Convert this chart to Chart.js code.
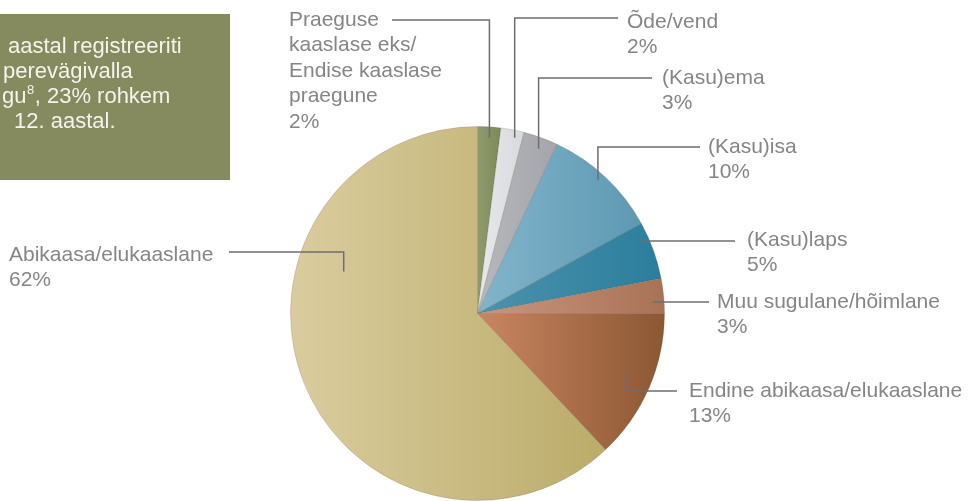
<!DOCTYPE html>
<html lang="et">
<head>
    <meta charset="UTF-8">
    <title>Perevägivald</title>
    <script src="https://cdn.jsdelivr.net/npm/chart.js"></script>
    <style>
        body {
            margin: 0;
            padding: 0;
            background: #ffffff;
        }
        .chart-container {
            position: relative;
            width: 968px;
            height: 501px;
        }
    </style>
</head>
<body>
    <div class="chart-container">
        <canvas id="pieCanvas"></canvas>
    </div>

    <script>
        // Andmed
        const categories = [
            'Praeguse kaaslase eks/Endise kaaslase praegune',
            'Õde/vend',
            '(Kasu)ema',
            '(Kasu)isa',
            '(Kasu)laps',
            'Muu sugulane/hõimlane',
            'Endine abikaasa/elukaaslane',
            'Abikaasa/elukaaslane'
        ];
        const shares = [2, 2, 3, 10, 5, 3, 13, 62];

        // Sildi read (pikk nimi murtakse)
        const labelLines = [
            ['Praeguse', 'kaaslase eks/', 'Endise kaaslase', 'praegune'],
            ['Õde/vend'],
            ['(Kasu)ema'],
            ['(Kasu)isa'],
            ['(Kasu)laps'],
            ['Muu sugulane/hõimlane'],
            ['Endine abikaasa/elukaaslane'],
            ['Abikaasa/elukaaslane']
        ];

        // Värvid: vasak -> parem
        const colorsLeft  = ['#909b6d', '#e8e9ec', '#b6b8bc', '#82b5cb', '#4d92ad', '#c9967e', '#c98661', '#dacc9e'];
        const colorsRight = ['#7b8957', '#d8d9dc', '#a3a5aa', '#5d98b2', '#2a7e9c', '#a87256', '#8c5733', '#bbac6a'];

        // Sildi asukoht: teksti x, esimese rea y, joone algus x, joone y
        const labelPos = [
            [289, 20, 392, 20],
            [627, 22, 618, 18],
            [662, 78, 652, 78],
            [708, 147, 700, 147],
            [747, 240, 735, 241],
            [717, 302, 709, 302],
            [689, 391, 677, 391],
            [9, 255, 229, 252]
        ];
        // Joone ots lõigul: nurga osa ja raadiuse osa
        const anchorT = [0.54, 0.66, 0.55, 0.47, 0.29, 0.67, 0.46, 0.675];
        const anchorR = [0.94, 0.96, 0.94, 0.96, 0.95, 0.94, 0.86, 0.75];

        const FONT = '21px "Liberation Sans", Arial, sans-serif';
        const BOX_FONT = '22px "Liberation Sans", Arial, sans-serif';
        const LINE_H = 25.5;

        function sliceRange(cx, r, a0, a1) {
            const xs = [cx, cx + r * Math.cos(a0), cx + r * Math.cos(a1)];
            for (let k = Math.ceil(a0 / Math.PI); k * Math.PI <= a1; k++) {
                xs.push(cx + r * Math.cos(k * Math.PI));
            }
            return [Math.min(...xs), Math.max(...xs)];
        }

        function sliceGradient(context) {
            const chart = context.chart;
            const area = chart.chartArea;
            const i = context.dataIndex;
            if (!area) return colorsLeft[i];
            const total = shares.reduce((a, b) => a + b, 0);
            let start = -Math.PI / 2;
            for (let k = 0; k < i; k++) start += shares[k] / total * Math.PI * 2;
            const end = start + shares[i] / total * Math.PI * 2;
            const cx = (area.left + area.right) / 2;
            const r = Math.min(area.width, area.height) / 2;
            const [x0, x1] = sliceRange(cx, r, start, end);
            const g = chart.ctx.createLinearGradient(x0, 0, x1 + 0.01, 0);
            g.addColorStop(0, colorsLeft[i]);
            g.addColorStop(1, colorsRight[i]);
            return g;
        }

        const annotations = {
            id: 'annotations',
            beforeDraw(chart) {
                const ctx = chart.ctx;
                ctx.save();
                // tekstikast vasakul üleval
                ctx.fillStyle = '#858b5e';
                ctx.fillRect(0, 14, 230, 166);
                ctx.fillStyle = '#f4f4ee';
                ctx.font = BOX_FONT;
                ctx.textBaseline = 'middle';
                ctx.fillText('aastal registreeriti', 8, 47);
                ctx.fillText('perevägivalla', 3, 72);
                ctx.fillText('gu', 2, 97);
                const w = ctx.measureText('gu').width;
                ctx.font = '13px "Liberation Sans", Arial, sans-serif';
                ctx.fillText('8', 2 + w + 0.5, 90);
                const w8 = ctx.measureText('8').width;
                ctx.font = BOX_FONT;
                ctx.fillText(', 23% rohkem', 2 + w + w8 + 1, 97);
                ctx.fillText('12. aastal.', 14, 122);
                ctx.restore();
            },
            afterDraw(chart) {
                const ctx = chart.ctx;
                const meta = chart.getDatasetMeta(0);
                ctx.save();
                ctx.font = FONT;
                ctx.textBaseline = 'middle';
                meta.data.forEach((arc, i) => {
                    const p = arc.getProps(['x', 'y', 'startAngle', 'endAngle', 'outerRadius'], true);
                    const a = p.startAngle + anchorT[i] * (p.endAngle - p.startAngle);
                    const ax = p.x + anchorR[i] * p.outerRadius * Math.cos(a);
                    const ay = p.y + anchorR[i] * p.outerRadius * Math.sin(a);
                    const [tx, ty, lx, ly] = labelPos[i];

                    ctx.strokeStyle = '#6e6e6e';
                    ctx.lineWidth = 1.5;
                    ctx.beginPath();
                    ctx.moveTo(lx, ly);
                    ctx.lineTo(ax, ly);
                    if (Math.abs(ay - ly) > 2) ctx.lineTo(ax, ay);
                    ctx.stroke();

                    ctx.fillStyle = '#858585';
                    const lines = labelLines[i].concat([shares[i] + '%']);
                    lines.forEach((t, j) => ctx.fillText(t, tx, ty + j * LINE_H));
                });
                ctx.restore();
            }
        };

        new Chart(document.getElementById('pieCanvas'), {
            type: 'pie',
            data: {
                labels: categories,
                datasets: [{
                    data: shares,
                    backgroundColor: sliceGradient,
                    borderColor: 'rgba(90, 80, 50, 0.18)',
                    borderWidth: 1
                }]
            },
            options: {
                responsive: true,
                maintainAspectRatio: false,
                animation: false,
                layout: {
                    padding: { left: 290, right: 303, top: 126, bottom: 0 }
                },
                plugins: {
                    legend: { display: false },
                    tooltip: { enabled: false },
                    title: { display: false }
                }
            },
            plugins: [annotations]
        });
    </script>
</body>
</html>
